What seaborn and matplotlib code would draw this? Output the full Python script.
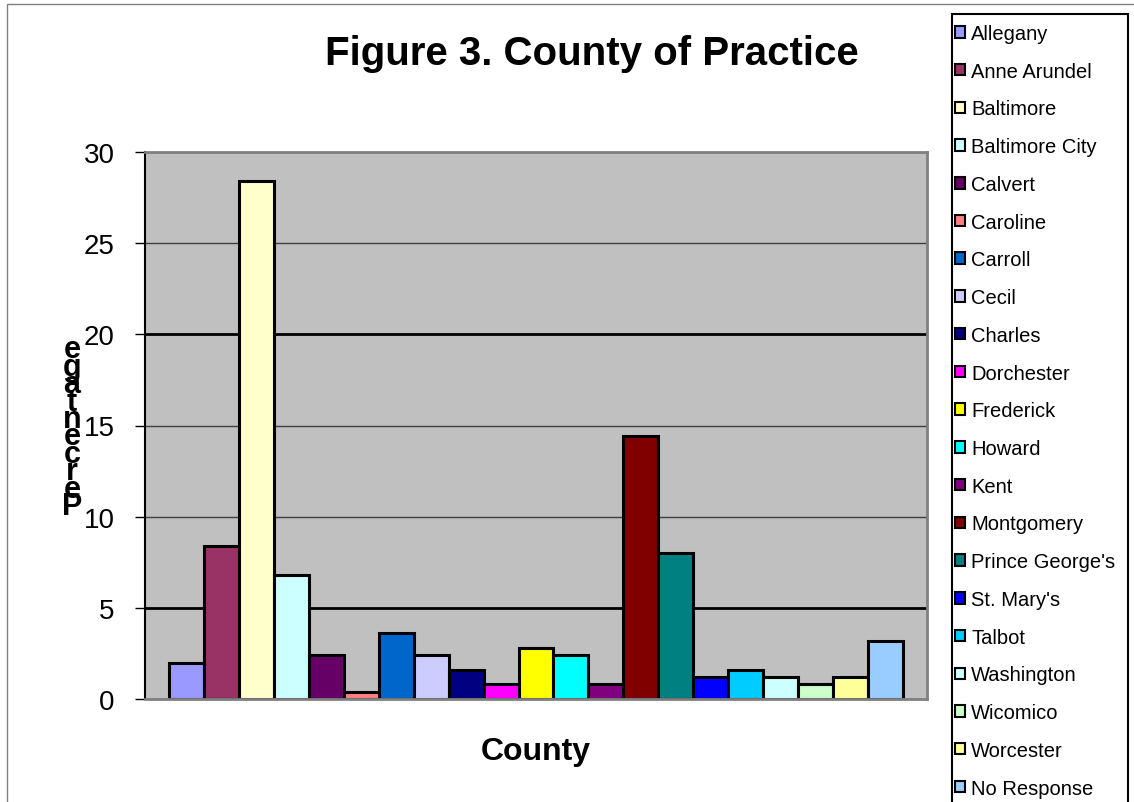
import pandas as pd
import matplotlib.pyplot as plt
import seaborn as sns
from matplotlib.patches import Patch, Rectangle

# %%
counties = ['Allegany', 'Anne Arundel', 'Baltimore', 'Baltimore City', 'Calvert',
            'Caroline', 'Carroll', 'Cecil', 'Charles', 'Dorchester', 'Frederick',
            'Howard', 'Kent', 'Montgomery', "Prince George's", "St. Mary's",
            'Talbot', 'Washington', 'Wicomico', 'Worcester', 'No Response']
percent = [2.0, 8.4, 28.4, 6.8, 2.4, 0.4, 3.6, 2.4, 1.6, 0.8, 2.8,
           2.4, 0.8, 14.4, 8.0, 1.2, 1.6, 1.2, 0.8, 1.2, 3.2]
colors = ['#9999FF', '#993366', '#FFFFCC', '#CCFFFF', '#660066', '#FF8080',
          '#0066CC', '#CCCCFF', '#000080', '#FF00FF', '#FFFF00', '#00FFFF',
          '#800080', '#800000', '#008080', '#0000FF', '#00CCFF', '#CCFFFF',
          '#CCFFCC', '#FFFF99', '#99CCFF']
yticks = [0, 5, 10, 15, 20, 25, 30]

data = pd.DataFrame({'county': counties, 'pct': percent})
palette = dict(zip(counties, colors))

# %%
sns.set_style('white')
plt.rcParams['font.family'] = ['Liberation Sans', 'DejaVu Sans']
plt.rcParams['text.color'] = 'black'

fig = plt.figure(figsize=(11.34, 8.03), dpi=100)
ax = fig.add_axes([145 / 1134, 1 - 700 / 803, 782 / 1134, 547 / 803])
ax.set_facecolor('#C0C0C0')

sns.barplot(data=data, x='county', y='pct', hue='county', palette=palette,
            width=1, edgecolor='black', linewidth=2.2, saturation=1,
            legend=False, ax=ax)

ax.set_xlim(-1.2, len(counties) - 1 + 1.2)
ax.set_ylim(0, 30)
ax.set_yticks(yticks)
ax.set_xticks([])
ax.tick_params(axis='y', labelsize=20, length=7, width=1, direction='out',
               left=True, pad=15, colors='black', labelcolor='black')

# gridlines (the picture shows 5 and 20 heavier)
ax.set_axisbelow(True)
ax.yaxis.grid(True, color='#404040', linewidth=1)
for val, gl in zip(yticks, ax.get_ygridlines()):
    if val in (5, 20):
        gl.set_color('black')
        gl.set_linewidth(2)

ax.spines['left'].set_color('black')
ax.spines['left'].set_linewidth(1.5)
for s in ['top', 'right', 'bottom']:
    ax.spines[s].set_color('#808080')
    ax.spines[s].set_linewidth(2)

ax.set_xlabel('County', fontsize=23, fontweight='bold', labelpad=27, color='black')
ax.set_ylabel('')

# stacked y label
label = 'Percentage'
for i, ch in enumerate(label):
    fig.text(72 / 1134, 1 - (515 - i * 17.4) / 803, ch, fontsize=22,
             fontweight='bold', ha='center', va='baseline')

fig.text(592 / 1134, 1 - 65 / 803, 'Figure 3. County of Practice',
         fontsize=29, fontweight='bold', ha='center', va='baseline')

# legend
handles = [Patch(facecolor=c, edgecolor='black', linewidth=1.5) for c in colors]
leg = fig.legend(handles, counties, loc='upper left',
                 bbox_to_anchor=(955 / 1134, 1 - 25 / 803), frameon=False,
                 fontsize=14.5, handlelength=0.5, handleheight=0.5,
                 handletextpad=0.3, labelspacing=0.93, borderaxespad=0,
                 borderpad=0)
for t in leg.get_texts():
    t.set_color('black')
fig.patches.append(Rectangle((952 / 1134, -0.01), 176 / 1134, 1 - 15 / 803 + 0.01,
                             transform=fig.transFigure, fill=False,
                             edgecolor='black', linewidth=1.5))

# outer chart border
fig.patches.append(Rectangle((7 / 1134, -0.01), 1.0, 1 - 5 / 803 + 0.01,
                             transform=fig.transFigure, fill=False,
                             edgecolor='#808080', linewidth=1))

fig.savefig('out.png', dpi=100)
